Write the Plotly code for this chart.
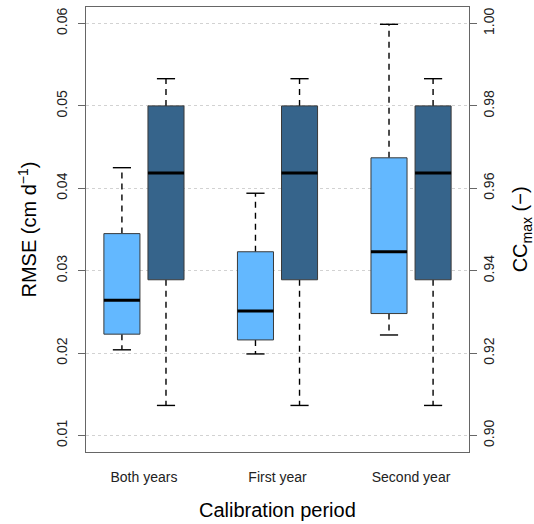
import plotly.graph_objects as go

# Calibration periods on the x axis
periods = ["Both years", "First year", "Second year"]

# RMSE (cm d^-1) five-number summaries per calibration period
rmse_low = [0.0204, 0.0199, 0.0222]
rmse_q1 = [0.0223, 0.0216, 0.0248]
rmse_med = [0.0264, 0.0251, 0.0323]
rmse_q3 = [0.0345, 0.0323, 0.0437]
rmse_high = [0.0425, 0.0394, 0.0599]

# CCmax (-) five-number summaries per calibration period
cc_low = [0.9073, 0.9073, 0.9073]
cc_q1 = [0.9378, 0.9378, 0.9378]
cc_med = [0.9637, 0.9637, 0.9637]
cc_q3 = [0.9800, 0.9800, 0.9800]
cc_high = [0.9866, 0.9866, 0.9866]

rmse_ticks = [0.01, 0.02, 0.03, 0.04, 0.05, 0.06]
cc_ticks = [0.90, 0.92, 0.94, 0.96, 0.98, 1.00]

LIGHT = "#63B8FF"
DARK = "#36648B"
FONT = "Liberation Sans, Arial, sans-serif"

OFFSET = 0.165   # distance of each box from the group centre
HALF_W = 0.135   # half box width
CAP = 0.068      # half whisker-cap width

fig = go.Figure()


def add_box(xc, lo, q1, med, q3, hi, color, yaxis):
    xl, xr = xc - HALF_W, xc + HALF_W
    # whiskers (dashed)
    fig.add_trace(go.Scatter(
        x=[xc, xc, None, xc, xc], y=[q3, hi, None, q1, lo], yaxis=yaxis,
        mode="lines", line=dict(color="black", width=1.4, dash="6px,5px"),
        hoverinfo="skip", showlegend=False))
    # whisker caps
    fig.add_trace(go.Scatter(
        x=[xc - CAP, xc + CAP, None, xc - CAP, xc + CAP],
        y=[hi, hi, None, lo, lo], yaxis=yaxis,
        mode="lines", line=dict(color="black", width=1.4),
        hoverinfo="skip", showlegend=False))
    # box body
    fig.add_trace(go.Scatter(
        x=[xl, xr, xr, xl, xl], y=[q1, q1, q3, q3, q1], yaxis=yaxis,
        mode="lines", fill="toself", fillcolor=color,
        line=dict(color="#3a3a3a", width=1),
        hoverinfo="skip", showlegend=False))
    # median
    fig.add_trace(go.Scatter(
        x=[xl, xr], y=[med, med], yaxis=yaxis,
        mode="lines", line=dict(color="black", width=3),
        hoverinfo="skip", showlegend=False))


for i in range(len(periods)):
    g = i + 1
    add_box(g - OFFSET, rmse_low[i], rmse_q1[i], rmse_med[i], rmse_q3[i],
            rmse_high[i], LIGHT, "y")
    add_box(g + OFFSET, cc_low[i], cc_q1[i], cc_med[i], cc_q3[i],
            cc_high[i], DARK, "y2")

fig.update_layout(
    width=534, height=524,
    margin=dict(l=86, r=65, t=7, b=72),
    plot_bgcolor="white", paper_bgcolor="white",
    font=dict(family=FONT, size=14, color="#222"),
    xaxis=dict(
        range=[0.566, 3.434], tickvals=[1, 2, 3], ticktext=periods,
        ticks="outside", ticklen=12, tickcolor="rgba(0,0,0,0)",
        showgrid=False, zeroline=False,
        showline=True, mirror=True, linecolor="#666", linewidth=1,
        tickfont=dict(size=14, color="#222"),
    ),
    yaxis=dict(
        range=[0.008, 0.062], tickvals=rmse_ticks,
        ticktext=[f"{v:.2f}" for v in rmse_ticks], tickangle=-90,
        ticks="outside", ticklen=7, tickcolor="#666", ticklabelstandoff=5,
        showgrid=True, gridcolor="#d2d2d2", griddash="dot", gridwidth=1,
        zeroline=False, showline=True, linecolor="#666", linewidth=1,
        tickfont=dict(size=14, color="#222"),
    ),
    yaxis2=dict(
        range=[0.896, 1.004], tickvals=cc_ticks,
        ticktext=[f"{v:.2f}" for v in cc_ticks], tickangle=-90,
        overlaying="y", side="right",
        ticks="outside", ticklen=7, tickcolor="#666",
        showgrid=False, zeroline=False,
        showline=True, linecolor="#666", linewidth=1,
        tickfont=dict(size=14, color="#222"),
    ),
    annotations=[
        dict(text="Calibration period", xref="paper", yref="paper",
             x=0.5, y=-0.13, yanchor="middle", xanchor="center",
             showarrow=False, font=dict(size=20, color="black")),
        dict(text="RMSE (cm d<sup>−1</sup>)", xref="paper", yref="paper",
             x=-0.154, y=0.5, textangle=-90, xanchor="center",
             yanchor="middle", showarrow=False,
             font=dict(size=20, color="black")),
        dict(text="CC<sub>max</sub> (−)", xref="paper", yref="paper",
             x=1.138, y=0.5, textangle=-90, xanchor="center",
             yanchor="middle", showarrow=False,
             font=dict(size=20, color="black")),
    ],
)

fig.write_html("out.html")
